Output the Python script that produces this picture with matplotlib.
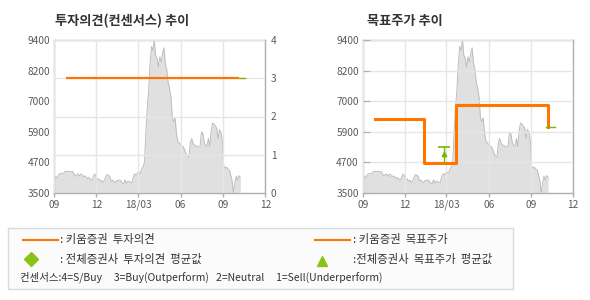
import matplotlib
matplotlib.use("Agg")
import matplotlib.pyplot as plt
from matplotlib.lines import Line2D
from matplotlib.patches import Rectangle
import pandas as pd

plt.rcParams['font.family'] = ['Noto Sans CJK KR', 'DejaVu Sans']

# ---------------- data ----------------
price_start = '2017-09-01'
price_step = '3D'
price_vals = [
    3940, 4130, 4080, 4200, 4250, 4240, 4270, 4260, 4350, 4330,
    4320, 4340, 4310, 4330, 4260, 4150, 4210, 4230, 4150, 4230,
    4200, 4130, 4160, 4120, 4060, 4100, 4030, 4000, 4120, 4230,
    4150, 4030, 4040, 3960, 3990, 3900, 3980, 4120, 4210, 4180,
    4140, 3950, 4000, 3940, 3900, 3990, 3960, 4010, 3960, 3890,
    3840, 4010, 3870, 3960, 3950, 3910, 3900, 4150, 4240, 4190,
    4280, 4300, 4260, 4440, 4500, 4700, 5900, 6800, 7500, 8500,
    9150, 9000, 9400, 8800, 8700, 8350, 8750, 8550, 8900, 9100,
    8500, 8250, 7750, 7550, 7200, 6400, 6250, 6400, 5800, 5500,
    5420, 5380, 5300, 5280, 5150, 5000, 4930, 4880, 5450, 5600,
    5400, 5350, 5320, 5300, 5270, 5300, 5850, 5800, 5450, 5330,
    5300, 5600, 5300, 5900, 6200, 6150, 6080, 6000, 5600, 5950,
    5850, 5550, 4550, 4450, 4500, 4420, 4400, 4200, 4000, 3500,
    3880, 4150, 4000, 4170, 4100,
]

# Kiwoom opinion (right axis 0-4)
opinion_dates = ['2017-09-26', '2018-10-05']
opinion_vals = [3, 3]
cons_opinion_dates = ['2018-10-05', '2018-10-19']
cons_opinion_vals = [3, 3]

# Kiwoom target price (step)
target_dates = ['2017-09-27', '2018-01-11', '2018-03-21', '2018-10-08']
target_vals = [6350, 4650, 6900, 6050]

# consensus target price average
cons_tp_date = '2018-02-24'
cons_tp_low = 4700
cons_tp_mid = 5000
cons_tp_high = 5260
cons_tp2_dates = ['2018-10-03', '2018-10-22']
cons_tp2_vals = [6050, 6050]

y_ticks_lbl = ['3500', '4700', '5900', '7000', '8200', '9400']
op_ticks_lbl = ['0', '1', '2', '3', '4']
x_tick_dates = ['2017-09-01', '2017-12-01', '2018-03-01', '2018-06-01', '2018-09-01', '2018-12-01']
x_tick_lbl = ['09', '12', '18/03', '06', '09', '12']

# ---------------- style ----------------
ORANGE = '#ff7500'
GREEN = '#7ab800'
LGREEN = '#88c417'
AREA = '#e0e0e0'
AREA_LINE = '#bdbdbd'
GRID = '#e6e6e6'
SPINE = '#b0b0b0'
TXT = '#5a5a5a'
DARK = '#333333'

price_dates = pd.date_range(price_start, periods=len(price_vals), freq=price_step)
xmin = pd.Timestamp(x_tick_dates[0]); xmax = pd.Timestamp(x_tick_dates[-1])
ymin, ymax = 3500, 9400
yticks = [ymin + i * (ymax - ymin) / 5 for i in range(6)]

fig = plt.figure(figsize=(5.9, 3.0), dpi=100)
fig.patch.set_facecolor('white')

def base_axes(rect):
    ax = fig.add_axes(rect)
    ax.fill_between(price_dates, ymin, price_vals, color=AREA, lw=0, zorder=1)
    ax.plot(price_dates, price_vals, color=AREA_LINE, lw=0.7, zorder=1.5)
    ax.set_xlim(xmin, xmax)
    ax.set_ylim(ymin, ymax)
    ax.set_xticks([pd.Timestamp(d) for d in x_tick_dates])
    ax.set_xticklabels(x_tick_lbl)
    ax.set_yticks(yticks)
    ax.set_yticklabels(y_ticks_lbl)
    for s in ax.spines.values():
        s.set_color(SPINE); s.set_linewidth(1.0)
    ax.tick_params(axis='x', colors=SPINE, labelcolor=TXT, labelsize=7.3, length=3, width=1, pad=2)
    ax.tick_params(axis='y', colors=SPINE, labelcolor=TXT, labelsize=7.3, length=0, pad=3)
    ax.grid(axis='x', color=GRID, lw=1.0)
    ax.set_axisbelow(False)
    return ax

# left chart
axL = base_axes([54.3 / 590, 107 / 300, 211 / 590, 153 / 300])
axL2 = axL.twinx()
axL2.set_ylim(0, 4)
axL2.set_yticks(range(5))
axL2.set_yticklabels(op_ticks_lbl)
axL2.tick_params(axis='y', colors=SPINE, labelcolor=TXT, labelsize=7.3, length=0, pad=4)
for s in axL2.spines.values():
    s.set_visible(False)
axL2.grid(axis='y', color=GRID, lw=1.0)
axL2.set_axisbelow(False)
axL2.plot(pd.to_datetime(opinion_dates), opinion_vals, color=ORANGE, lw=1.6, zorder=4, solid_capstyle='butt')
axL2.plot(pd.to_datetime(cons_opinion_dates), cons_opinion_vals, color=GREEN, lw=1.0, zorder=4)
axL2.set_xlim(xmin, xmax)
fig.text(55 / 590, 1 - 21 / 300, '투자의견(컨센서스) 추이', fontsize=9.5, fontweight='bold', color=DARK, va='center', ha='left')

# right chart
axR = base_axes([363 / 590, 107 / 300, 210 / 590, 153 / 300])
axR.grid(axis='y', color=GRID, lw=1.0)
axR.tick_params(axis='y', length=5, direction='in')
axR.plot(pd.to_datetime(target_dates), target_vals, color=ORANGE, lw=2.2, drawstyle='steps-post', zorder=4)
d = pd.Timestamp(cons_tp_date)
axR.plot([d, d], [cons_tp_low, cons_tp_high], color=GREEN, lw=1.0, zorder=5)
axR.plot([d], [cons_tp_high], marker='_', markersize=9, mew=1.2, color=GREEN, zorder=5)
axR.plot([d], [cons_tp_mid], marker='^', markersize=3.2, color=GREEN, zorder=5)
axR.plot(pd.to_datetime(cons_tp2_dates), cons_tp2_vals, color=GREEN, lw=1.0, zorder=5)
fig.text(367 / 590, 1 - 21 / 300, '목표주가 추이', fontsize=9.5, fontweight='bold', color=DARK, va='center', ha='left')

# legend box
fig.patches.append(Rectangle((8 / 590, 11 / 300), 505 / 590, 61 / 300, transform=fig.transFigure,
                             facecolor='#fbfbfb', edgecolor='#dadada', lw=1.0, zorder=0))
y1, y2, y3 = 1 - 240 / 300, 1 - 259 / 300, 1 - 277 / 300
fig.lines.append(Line2D([23 / 590, 58 / 590], [y1, y1], transform=fig.transFigure, color=ORANGE, lw=1.5))
fig.lines.append(Line2D([315 / 590, 350 / 590], [y1, y1], transform=fig.transFigure, color=ORANGE, lw=1.5))
fig.lines.append(Line2D([31 / 590], [y2], transform=fig.transFigure, marker='D', markersize=7, color=LGREEN, lw=0))
fig.lines.append(Line2D([322 / 590], [y2 - 0.005], transform=fig.transFigure, marker='^', markersize=7, color=LGREEN, lw=0))
fs = 8.2
fig.text(60 / 590, y1, ': 키움증권  투자의견', fontsize=fs, color=DARK, va='center')
fig.text(353 / 590, y1, ': 키움증권  목표주가', fontsize=fs, color=DARK, va='center')
fig.text(60 / 590, y2, ': 전체증권사  투자의견  평균값', fontsize=fs, color=DARK, va='center')
fig.text(353 / 590, y2, ':전체증권사  목표주가  평균값', fontsize=fs, color=DARK, va='center')
fig.text(20 / 590, y3, '컨센서스:4=S/Buy     3=Buy(Outperform)   2=Neutral     1=Sell(Underperform)',
         fontsize=7.5, color=DARK, va='center')

fig.savefig('out.png', dpi=100, facecolor='white')
